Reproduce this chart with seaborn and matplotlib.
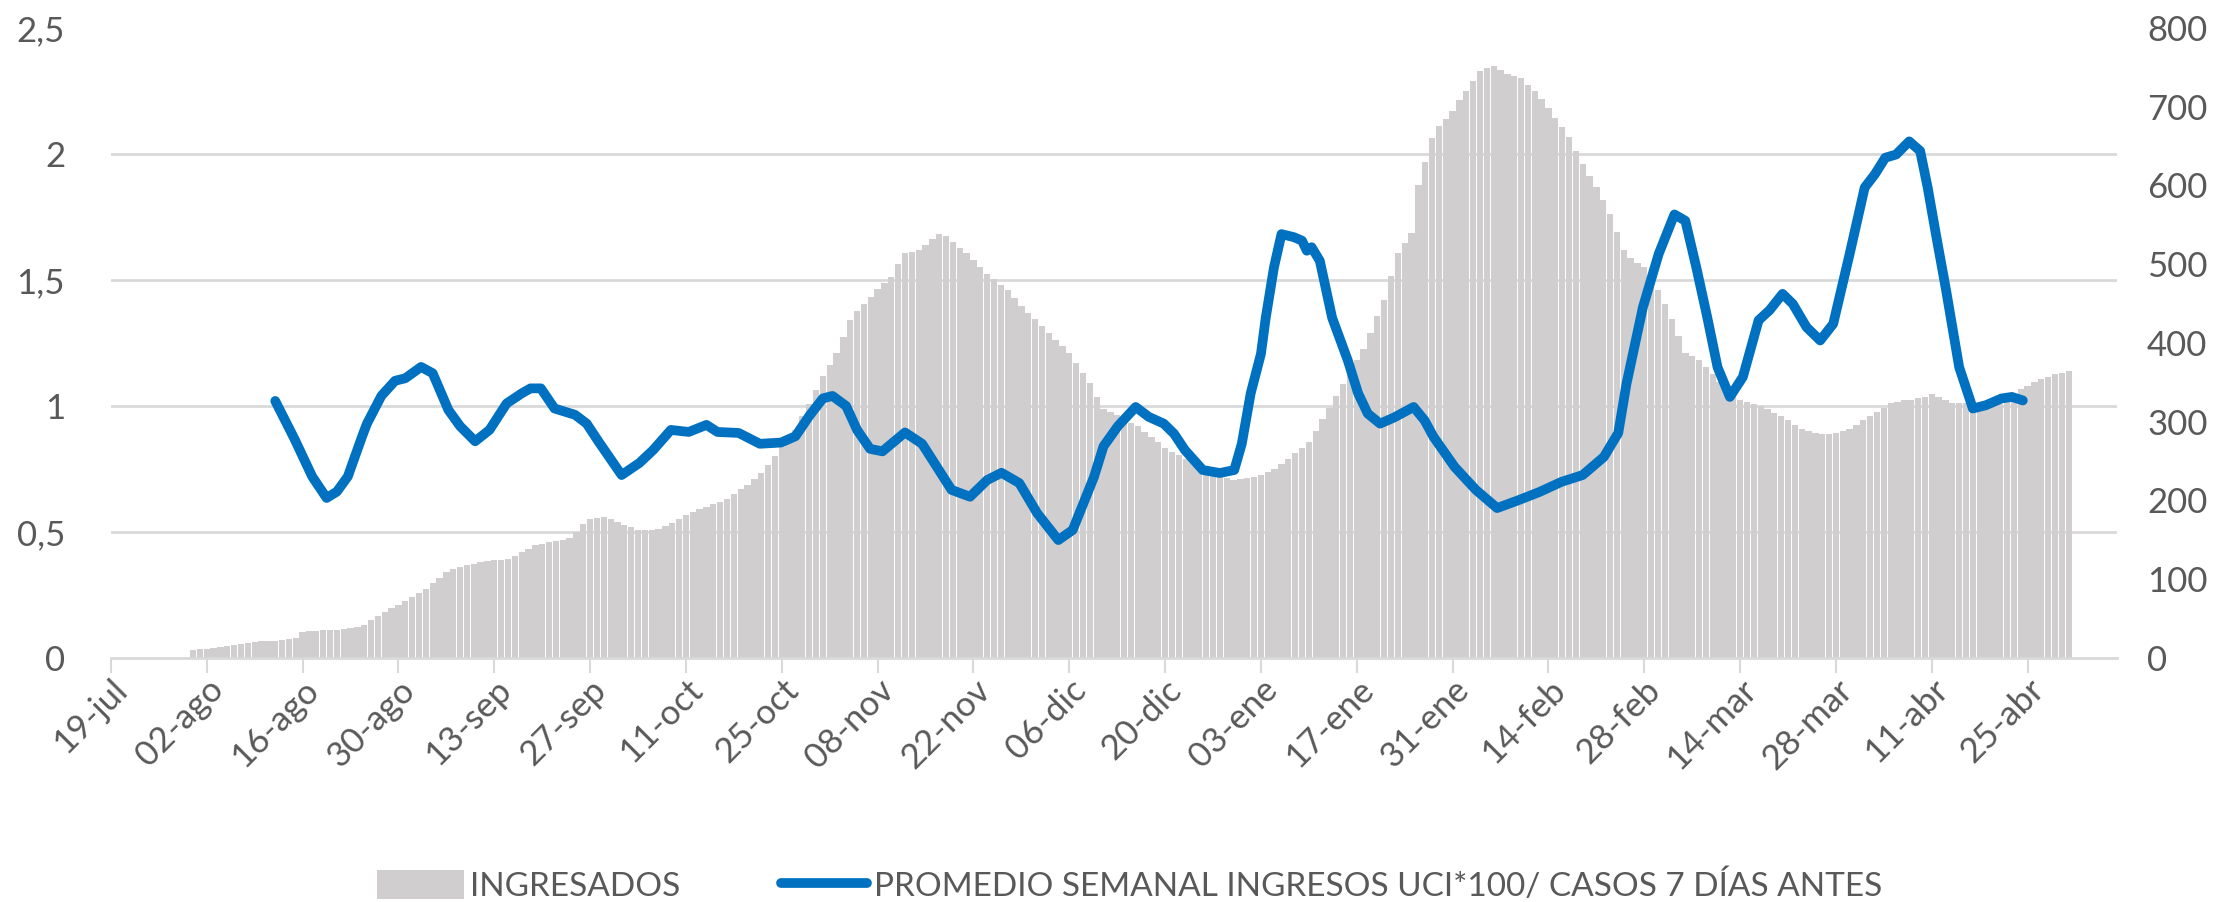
import numpy as np
import pandas as pd
import matplotlib.pyplot as plt
import seaborn as sns
from matplotlib.patches import Patch
from matplotlib.lines import Line2D

# ─── Datos ───
# ingresados diarios desde el 19-jul (día 0)
ingresados = [
    0, 0, 0, 0, 0, 0, 0, 0, 0, 0, 0, 0,
    10, 11, 12, 13, 14, 15, 17, 18, 19,
    20, 21, 22, 22, 23, 24, 26,
    33, 34, 34, 35, 36, 36, 37,
    38, 39, 42, 48, 53, 58, 63,
    67, 72, 77, 82, 88, 95, 102,
    109, 113, 116, 118, 120, 122, 123,
    124, 125, 126, 129, 134, 139, 143,
    145, 147, 149, 150, 152, 160, 170,
    177, 178, 179, 177, 173, 169, 166,
    163, 162, 162, 164, 168, 172, 176,
    181, 185, 189, 192, 195, 198, 202,
    208, 214, 220, 227, 235, 245, 257,
    268, 279, 290, 307, 323, 340, 358,
    372, 387, 408, 429, 440, 450, 459,
    468, 476, 484, 500, 514, 516, 518,
    525, 532, 539, 536, 528, 521, 514,
    505, 497, 488, 481, 474, 467, 457,
    447, 438, 430, 421, 413, 404, 396,
    387, 374, 362, 349, 332, 316, 312,
    308, 303, 299, 294, 287, 280, 274,
    267, 262, 258, 253, 249, 244, 240,
    236, 233, 229, 226, 227, 228, 230,
    233, 236, 240, 246, 253, 260, 267,
    274, 288, 303, 318, 333, 348, 363,
    378, 392, 413, 434, 455, 485, 514,
    527, 540, 600, 630, 660, 675, 685,
    695, 708, 720, 733, 745, 749, 752,
    746, 741, 739, 737, 728, 720, 710,
    699, 686, 674, 661, 644, 627, 612,
    598, 581, 564, 541, 518, 508, 501,
    497, 482, 467, 449, 430, 409, 387,
    383, 379, 369, 360, 350, 343, 335,
    328, 325, 323, 320, 316, 311, 307,
    302, 296, 291, 288, 286, 284, 284,
    286, 288, 291, 296, 302, 307, 313,
    318, 324, 325, 327, 328, 330, 332,
    335, 331, 328, 324, 324, 324, 324,
    324, 323, 323, 322, 328, 335, 341,
    345, 350, 354, 357, 360, 362, 364,
]

# promedio semanal ingresos UCI*100 / casos 7 días antes
linea_dias = [24, 26.8, 29.4, 31.5, 33, 34.6, 36.7, 37.4, 39.5, 41.5, 43, 45.3, 47,
              49.3, 51, 53.2, 55.3, 57.8, 60, 61.3, 62.8, 64.8, 67.8, 69.5, 71.2,
              74.6, 77.2, 79.2, 81.8, 84.4, 87, 88.6, 91.7, 94.8, 97.9, 100, 102,
              104, 105.4, 107.4, 109, 110.9, 112.7, 116, 118.5, 122.8, 125.5, 128,
              130.1, 132.7, 135.3, 138.4, 140.5, 143.6, 145, 147.1, 149.7, 151.6,
              153.8, 155.3, 156.9, 159.5, 162, 164.1, 165.2, 166.5, 168, 168.7,
              169.9, 171, 172.8, 174, 174.7, 175.4, 176.6, 178.4, 180.7, 182.2,
              183.6, 185.4, 187.5, 190.3, 191.9, 193.2, 196.3, 199.4, 202.5, 205.7,
              208.7, 211.9, 215, 218.1, 220.2, 221.4, 223.8, 226.1, 228.4, 230,
              231.6, 233.2, 234.7, 236.5, 238.4, 240.7, 242.3, 244.2, 245.7, 247.7,
              249.7, 251.6, 254, 256.2, 257.7, 259.2, 260.8, 262.7, 264.3, 265.4,
              266.6, 268.1, 270, 272, 273.9, 276.2, 277.7, 279.3]
linea_vals = [1.02, 0.87, 0.72, 0.635, 0.66, 0.72, 0.88, 0.93, 1.04, 1.10, 1.11, 1.155, 1.13,
              0.984, 0.92, 0.86, 0.905, 1.01, 1.05, 1.07, 1.07, 0.99, 0.965, 0.93, 0.86,
              0.726, 0.774, 0.825, 0.905, 0.897, 0.925, 0.897, 0.893, 0.85, 0.855, 0.88, 0.96,
              1.03, 1.04, 1.0, 0.905, 0.83, 0.82, 0.895, 0.85, 0.667, 0.64, 0.706,
              0.735, 0.694, 0.575, 0.468, 0.508, 0.718, 0.84, 0.92, 0.996, 0.957,
              0.93, 0.89, 0.825, 0.746, 0.734, 0.746, 0.85, 1.05, 1.207, 1.35,
              1.55, 1.682, 1.67, 1.656, 1.616, 1.63, 1.576, 1.35, 1.18, 1.05,
              0.97, 0.93, 0.955, 0.996, 0.943, 0.878, 0.758, 0.667, 0.595, 0.627,
              0.659, 0.699, 0.726, 0.798, 0.893, 1.088, 1.392, 1.603, 1.76, 1.735,
              1.55, 1.352, 1.154, 1.036, 1.115, 1.34, 1.38, 1.445, 1.405, 1.313,
              1.26, 1.326, 1.603, 1.867, 1.92, 1.985, 1.998, 2.05, 2.012, 1.867,
              1.682, 1.458, 1.154, 0.99, 1.003, 1.03, 1.036, 1.022]

etiquetas_x = ['19-jul', '02-ago', '16-ago', '30-ago', '13-sep', '27-sep', '11-oct',
               '25-oct', '08-nov', '22-nov', '06-dic', '20-dic', '03-ene', '17-ene',
               '31-ene', '14-feb', '28-feb', '14-mar', '28-mar', '11-abr', '25-abr']

GRIS_BARRA = '#D0CECE'
AZUL = '#0070C0'
GRIS_TXT = '#595959'
GRIS_REJ = '#D9D9D9'

sns.set_theme(style='white')
plt.rcParams['font.family'] = ['Lato', 'DejaVu Sans']

fig, ax = plt.subplots(figsize=(22.28, 9.02), dpi=100)
fig.subplots_adjust(left=0.0498, right=0.950, top=0.969, bottom=0.2705)

# ─── Barras (eje derecho, 0-800) ───
df_bar = pd.DataFrame({'dia': np.arange(len(ingresados)), 'ingresados': ingresados})
sns.barplot(data=df_bar, x='dia', y='ingresados', native_scale=True,
            color=GRIS_BARRA, saturation=1, width=0.92, linewidth=0,
            errorbar=None, ax=ax, zorder=2)

# ─── Línea (eje izquierdo, 0-2,5) ───
ax2 = ax.twinx()
sns.lineplot(x=linea_dias, y=linea_vals, ax=ax2, color=AZUL, linewidth=7,
             solid_capstyle='round', solid_joinstyle='round')

# ─── Ejes ───
ax.set_ylim(0, 800)
ax.set_xlim(0, 293)
ax.set_xlabel('')
ax.set_ylabel('')
ax.set_yticks(np.arange(0, 801, 100))
ax.set_yticklabels([str(v) for v in range(0, 801, 100)])
ax.set_yticks(np.linspace(0, 800, 6), minor=True)
ax.grid(False)
ax.grid(which='minor', axis='y', color=GRIS_REJ, linewidth=2, zorder=0)
ax.set_axisbelow(True)
ax.yaxis.tick_right()
ax.tick_params(axis='y', which='major', length=0, pad=22, labelsize=25,
               labelcolor=GRIS_TXT, right=True, left=False,
               labelright=True, labelleft=False)
ax.tick_params(axis='y', which='minor', length=0)

ax.set_xticks(np.arange(0, 281, 14))
ax.set_xticklabels(etiquetas_x)
ax.tick_params(axis='x', length=11, width=1.5, color=GRIS_REJ, pad=0,
               labelsize=25, labelcolor=GRIS_TXT, bottom=True)
plt.setp(ax.get_xticklabels(), rotation=45, ha='right', va='top',
         rotation_mode='anchor')

for s in ['top', 'left', 'right']:
    ax.spines[s].set_visible(False)
ax.spines['bottom'].set_color(GRIS_REJ)
ax.spines['bottom'].set_linewidth(2)

ax2.set_ylim(0, 2.5)
ax2.set_ylabel('')
ax2.set_yticks(np.arange(0, 2.51, 0.5))
ax2.set_yticklabels(['0', '0,5', '1', '1,5', '2', '2,5'])
ax2.yaxis.tick_left()
ax2.tick_params(axis='y', length=0, pad=33, labelsize=25, labelcolor=GRIS_TXT,
                left=True, right=False, labelleft=True, labelright=False)
ax2.grid(False)
for s in ax2.spines.values():
    s.set_visible(False)

# ─── Leyenda ───
handles = [Patch(facecolor=GRIS_BARRA, edgecolor='none'),
           Line2D([0], [0], color=AZUL, linewidth=7)]
labels = ['INGRESADOS', 'PROMEDIO SEMANAL INGRESOS UCI*100/ CASOS 7 DÍAS ANTES']
fig.legend(handles, labels, loc='center', bbox_to_anchor=(0.507, 0.018), ncol=2,
           frameon=False, fontsize=24, labelcolor=GRIS_TXT, handlelength=2.6,
           handleheight=0.95, handletextpad=0.2, columnspacing=3.0)

plt.savefig('out.png', dpi=100)
